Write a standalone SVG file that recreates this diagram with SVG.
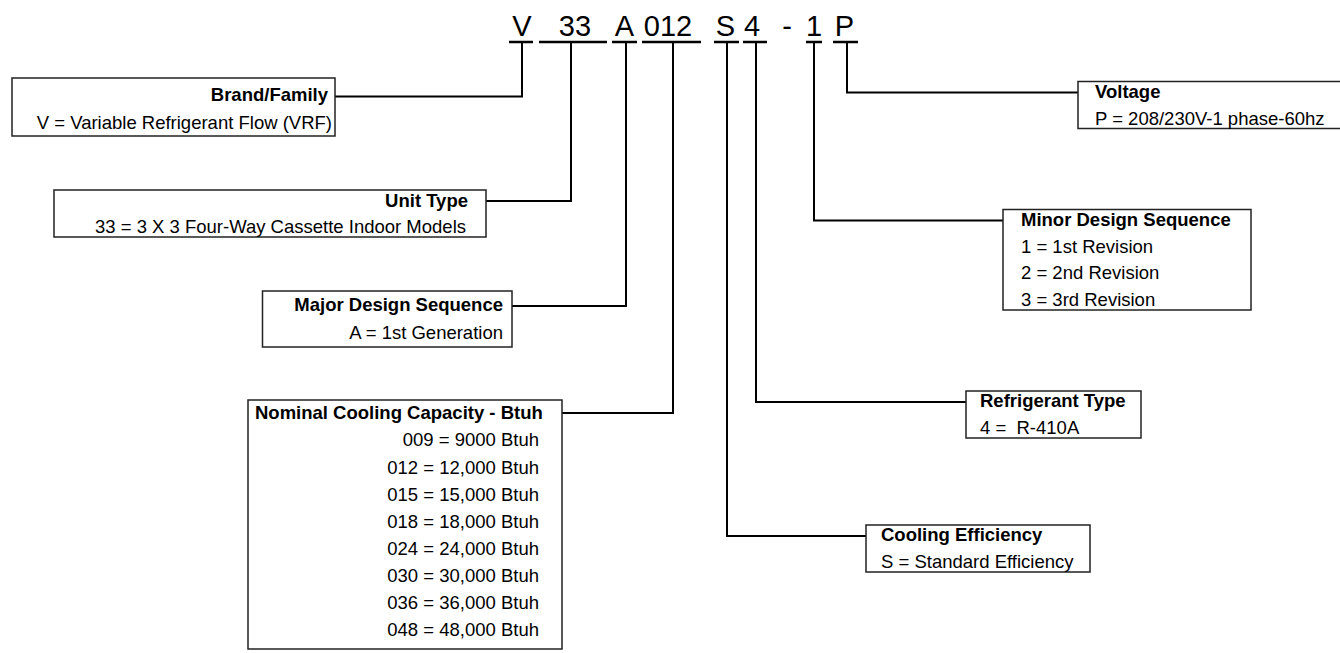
<svg xmlns="http://www.w3.org/2000/svg" width="1340" height="653" viewBox="0 0 1340 653">
<style>
.code{font-family:"Liberation Sans",Arial,sans-serif;font-size:29px;fill:#000;text-anchor:middle}
.t{font-family:"Liberation Sans",Arial,sans-serif;font-size:18.5px;font-weight:bold;fill:#000}
.v{font-family:"Liberation Sans",Arial,sans-serif;font-size:18.5px;fill:#000;white-space:pre}
.r{text-anchor:end}
.box{fill:#fff;stroke:#222;stroke-width:1.5}
.ul{stroke:#000;stroke-width:2.5;fill:none}
.con{stroke:#000;stroke-width:2;fill:none}
</style>
<rect width="1340" height="653" fill="#fff"/>
<g id="code">
<text class="code" x="522" y="36">V</text>
<text class="code" x="575" y="36">33</text>
<text class="code" x="624.5" y="36">A</text>
<text class="code" x="668" y="36">012</text>
<text class="code" x="725.5" y="36">S</text>
<text class="code" x="752" y="36">4</text>
<text class="code" x="787" y="36">-</text>
<text class="code" x="814" y="36">1</text>
<text class="code" x="844.5" y="36">P</text>
<path class="ul" d="M509 42H533M539 42H607M612 42H637M642 42H701M714 42H739M743 42H767M806 42H822M833 42H858"/>
</g>
<g id="connectors">
<path class="con" d="M522 42V96.5H335"/>
<path class="con" d="M571 42V201H486"/>
<path class="con" d="M626 42V306H512"/>
<path class="con" d="M673 42V413H562"/>
<path class="con" d="M727 42V536H866"/>
<path class="con" d="M756 42V402H966"/>
<path class="con" d="M814 42V220.5H1003"/>
<path class="con" d="M847 42V92.5H1078"/>
</g>
<g id="brand">
<rect class="box" x="12" y="78" width="323" height="58"/>
<text class="t r" x="328" y="101">Brand/Family</text>
<text class="v r" x="332" y="129">V = Variable Refrigerant Flow (VRF)</text>
</g>
<g id="unit-type">
<rect class="box" x="54" y="190" width="432" height="47"/>
<text class="t r" x="468" y="207">Unit Type</text>
<text class="v r" x="466" y="233">33 = 3 X 3 Four-Way Cassette Indoor Models</text>
</g>
<g id="major">
<rect class="box" x="262.5" y="291" width="249.5" height="56"/>
<text class="t r" x="503" y="311">Major Design Sequence</text>
<text class="v r" x="503" y="339">A = 1st Generation</text>
</g>
<g id="capacity">
<rect class="box" x="248" y="400" width="314" height="249"/>
<text class="t" x="255" y="419">Nominal Cooling Capacity - Btuh</text>
<text class="v r" x="539" y="446.4">009 = 9000 Btuh</text>
<text class="v r" x="539" y="473.5">012 = 12,000 Btuh</text>
<text class="v r" x="539" y="500.6">015 = 15,000 Btuh</text>
<text class="v r" x="539" y="527.7">018 = 18,000 Btuh</text>
<text class="v r" x="539" y="554.8">024 = 24,000 Btuh</text>
<text class="v r" x="539" y="581.9">030 = 30,000 Btuh</text>
<text class="v r" x="539" y="609">036 = 36,000 Btuh</text>
<text class="v r" x="539" y="636.1">048 = 48,000 Btuh</text>
</g>
<g id="voltage">
<rect class="box" x="1078" y="81.5" width="270" height="47"/>
<text class="t" x="1095" y="97.5">Voltage</text>
<text class="v" x="1095" y="124.5">P = 208/230V-1 phase-60hz</text>
</g>
<g id="minor">
<rect class="box" x="1003" y="209.5" width="248" height="100.5"/>
<text class="t" x="1021" y="226">Minor Design Sequence</text>
<text class="v" x="1021" y="252.5">1 = 1st Revision</text>
<text class="v" x="1021" y="279">2 = 2nd Revision</text>
<text class="v" x="1021" y="305.5">3 = 3rd Revision</text>
</g>
<g id="refrigerant">
<rect class="box" x="966" y="391" width="175" height="47"/>
<text class="t" x="980" y="407">Refrigerant Type</text>
<text class="v" x="980" y="434">4 =  R-410A</text>
</g>
<g id="efficiency">
<rect class="box" x="866" y="525" width="224" height="47"/>
<text class="t" x="881" y="541">Cooling Efficiency</text>
<text class="v" x="881" y="568">S = Standard Efficiency</text>
</g>
</svg>
